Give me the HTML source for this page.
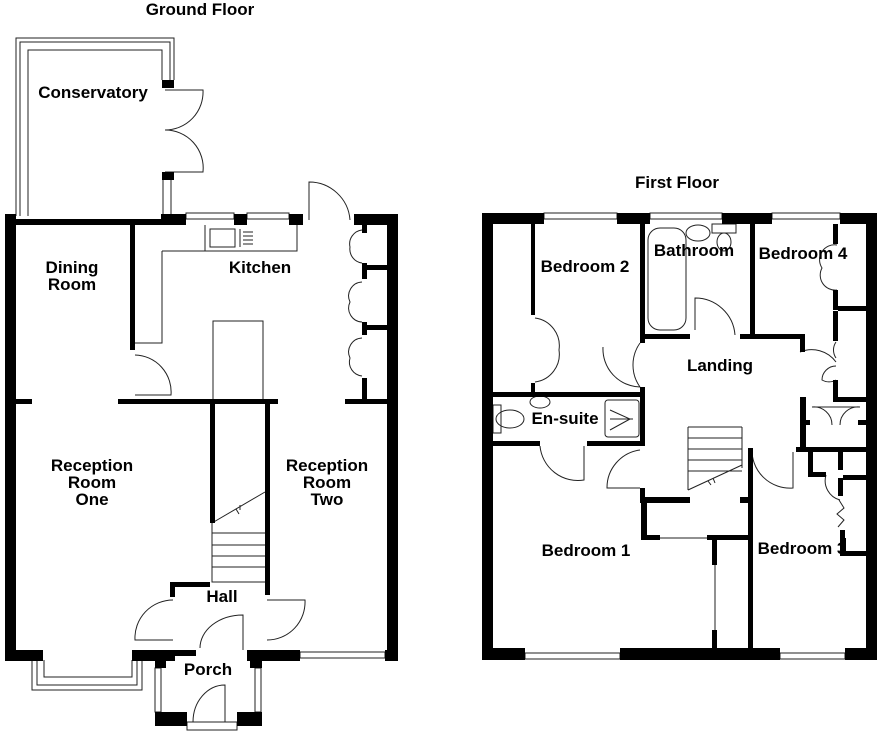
<!DOCTYPE html>
<html><head><meta charset="utf-8"><style>
html,body{margin:0;padding:0;background:#fff;}
svg{display:block;}
text{font-family:"Liberation Sans",Arial,sans-serif;font-weight:bold;font-size:17px;fill:#000;text-anchor:middle;}
</style></head><body>
<svg width="880" height="737" viewBox="0 0 880 737" xmlns="http://www.w3.org/2000/svg">
<g fill="none" stroke="#222" stroke-width="1">
<path d="M16,216 V38 H174 V80"/><path d="M20,216 V42 H170 V80"/><path d="M28,216 V50 H162 V80"/>
<path d="M163,180 V214 M171,180 V214"/>
<path d="M165,90 H203 A38,38 0 0 1 165,130"/><path d="M165,172 H203 A38,38 0 0 0 165,130"/>
<rect x="186" y="213" width="48" height="6"/><rect x="247" y="213" width="42" height="6"/>
<path d="M309,220 V182 A41,41 0 0 1 350,220"/>
<path d="M205,225 V251 H297 V225 M162,251 H205 M162,251 V343 H135"/>
<rect x="210" y="229" width="25" height="18"/><path d="M240,229 V247 M243,232 H253 M243,236 H253 M243,240 H253 M243,244 H253"/>
<path d="M362,230 A14,14 0 0 0 350,247 A14,14 0 0 0 362,263"/>
<path d="M362,282 A14,14 0 0 0 350,302 A14,14 0 0 0 362,322"/>
<path d="M362,338 A14,14 0 0 0 350,358 A14,14 0 0 0 362,376"/>
<path d="M135,355 A37,37 0 0 1 171,395 H135"/>
<rect x="213" y="321" width="50" height="82"/>
<path d="M212,523 V582 H265 M212,533 H265 M212,545 H265 M212,556 H265 M212,567 H265 M212,523 L265,492 M236,509 l3,5 M240,505 l0,5"/>
<path d="M173,600 A38,38 0 0 0 135,640 H173"/>
<path d="M267,640 A38,38 0 0 0 305,600 H267"/>
<path d="M200,648 A43,33 0 0 1 243,615 V650"/>
<path d="M193,722 A32,37 0 0 1 225,685 V722"/>
<rect x="187" y="722" width="50" height="8"/>
<path d="M32,660 V690 H142 V660 M37,660 V685 H137 V660 M44,660 V677 H132 V660"/>
<rect x="155" y="668" width="6" height="44"/><rect x="255" y="668" width="6" height="44"/>
<rect x="300" y="652" width="85" height="6"/>
<rect x="544" y="213" width="73" height="6"/><rect x="650" y="213" width="72" height="6"/><rect x="772" y="213" width="68" height="6"/>
<rect x="525" y="653" width="95" height="6"/><rect x="780" y="653" width="65" height="6"/>
<rect x="648" y="228" width="38" height="102" rx="12"/>
<ellipse cx="698" cy="233" rx="12" ry="8"/><ellipse cx="724" cy="242" rx="7" ry="9"/><rect x="712" y="224" width="24" height="9"/>
<ellipse cx="510" cy="419" rx="14" ry="9"/><rect x="493" y="405" width="8" height="28"/><rect x="605" y="400" width="34" height="37" rx="3"/>
<path d="M610,419 H633 M610,410 L630,419 L610,430"/><ellipse cx="540" cy="402" rx="10" ry="6"/>
<path d="M535,318 A28,28 0 0 1 559,350 A28,28 0 0 1 535,382"/>
<path d="M640,343 A38,38 0 0 0 640,387"/><path d="M603,347 A38,38 0 0 0 640,387"/>
<path d="M695,330 V298 A40,40 0 0 1 735,335"/>
<path d="M837,245 A15,15 0 0 0 822,268 A15,15 0 0 0 837,290"/>
<path d="M800,352 A30,30 0 0 1 836,362 M836,342 A14,14 0 0 0 836,358 M836,366 A14,14 0 0 0 822,380 A14,14 0 0 0 836,380"/>
<path d="M812,407 A18,18 0 0 1 832,425 M860,407 A18,18 0 0 0 840,425 M812,407 H860"/>
<path d="M540,446 A38,38 0 0 0 584,480 V446"/>
<path d="M640,450 A38,38 0 0 0 607,488 H640"/>
<path d="M752,448 A38,38 0 0 0 793,488 V452"/>
<path d="M826,475 A20,20 0 0 0 840,500 M839,500 L844,508 L837,514 L844,520 L838,527"/>
<path d="M688,427 V490 M742,427 V468 M688,427 H742 M688,438 H742 M688,449 H742 M688,460 H742 M688,471 H742 M688,490 L742,465 M708,481 l3,4 M713,478 l2,5"/>
<path d="M660,538 H707 M715,565 V630"/>
</g>
<g fill="#000">
<rect x="5" y="214" width="11" height="447"/>
<rect x="5" y="219" width="157" height="6"/>
<rect x="161" y="214" width="25" height="11"/><rect x="234" y="214" width="13" height="11"/><rect x="289" y="214" width="14" height="11"/>
<rect x="354" y="214" width="44" height="11"/><rect x="387" y="214" width="11" height="447"/>
<rect x="162" y="80" width="12" height="8"/><rect x="162" y="172" width="12" height="8"/>
<rect x="130" y="225" width="5" height="125"/>
<rect x="5" y="399" width="27" height="5"/><rect x="118" y="399" width="160" height="5"/><rect x="345" y="399" width="52" height="5"/>
<rect x="362" y="225" width="5" height="8"/><rect x="362" y="265" width="25" height="5"/><rect x="362" y="263" width="5" height="16"/>
<rect x="362" y="325" width="25" height="5"/><rect x="362" y="322" width="5" height="13"/><rect x="362" y="378" width="5" height="22"/>
<rect x="210" y="404" width="5" height="119"/><rect x="265" y="404" width="5" height="191"/>
<rect x="170" y="582" width="40" height="5"/><rect x="170" y="582" width="5" height="15"/>
<rect x="5" y="650" width="38" height="11"/><rect x="132" y="650" width="43" height="11"/>
<rect x="155" y="650" width="11" height="18"/><rect x="166" y="650" width="30" height="6"/>
<rect x="247" y="650" width="53" height="11"/><rect x="250" y="650" width="12" height="18"/><rect x="385" y="650" width="13" height="11"/>
<rect x="155" y="712" width="32" height="14"/><rect x="237" y="712" width="25" height="14"/>
<rect x="482" y="213" width="11" height="447"/><rect x="482" y="213" width="62" height="11"/><rect x="617" y="213" width="33" height="11"/>
<rect x="722" y="213" width="50" height="11"/><rect x="840" y="213" width="37" height="11"/><rect x="866" y="213" width="11" height="447"/>
<rect x="482" y="648" width="43" height="12"/><rect x="620" y="648" width="160" height="12"/><rect x="845" y="648" width="32" height="12"/>
<rect x="531" y="224" width="4" height="91"/><rect x="531" y="383" width="4" height="10"/>
<rect x="493" y="392" width="152" height="5"/><rect x="493" y="441" width="47" height="5"/><rect x="587" y="441" width="58" height="5"/>
<rect x="640" y="224" width="5" height="119"/><rect x="640" y="387" width="5" height="59"/><rect x="640" y="488" width="5" height="15"/>
<rect x="640" y="334" width="50" height="5"/><rect x="740" y="334" width="65" height="5"/><rect x="750" y="224" width="5" height="115"/><rect x="800" y="334" width="5" height="18"/>
<rect x="833" y="224" width="5" height="20"/><rect x="833" y="290" width="5" height="20"/><rect x="838" y="306" width="28" height="5"/>
<rect x="833" y="311" width="5" height="30"/><rect x="833" y="380" width="5" height="22"/><rect x="838" y="397" width="28" height="5"/>
<rect x="800" y="397" width="6" height="55"/><rect x="796" y="447" width="70" height="5"/><rect x="800" y="420" width="10" height="5"/><rect x="858" y="420" width="8" height="5"/>
<rect x="640" y="497" width="50" height="6"/><rect x="740" y="497" width="13" height="6"/><rect x="748" y="448" width="5" height="200"/>
<rect x="641" y="497" width="6" height="43"/><rect x="641" y="535" width="19" height="5"/><rect x="707" y="535" width="46" height="5"/>
<rect x="712" y="538" width="5" height="27"/><rect x="712" y="630" width="5" height="18"/>
<rect x="808" y="452" width="5" height="25"/><rect x="808" y="472" width="18" height="5"/><rect x="838" y="452" width="5" height="18"/><rect x="838" y="478" width="5" height="18"/>
<rect x="843" y="475" width="23" height="5"/><rect x="840" y="530" width="5" height="26"/><rect x="840" y="551" width="26" height="5"/>
</g>
<text x="200" y="15">Ground Floor</text>
<text x="677" y="188">First Floor</text>
<text x="93" y="98">Conservatory</text>
<text x="72" y="273">Dining</text><text x="72" y="290">Room</text>
<text x="260" y="273">Kitchen</text>
<text x="92" y="471">Reception</text><text x="92" y="488">Room</text><text x="92" y="505">One</text>
<text x="327" y="471">Reception</text><text x="327" y="488">Room</text><text x="327" y="505">Two</text>
<text x="222" y="602">Hall</text>
<text x="208" y="675">Porch</text>
<text x="585" y="272">Bedroom 2</text>
<text x="694" y="256">Bathroom</text>
<text x="803" y="259">Bedroom 4</text>
<text x="720" y="371">Landing</text>
<text x="565" y="424">En-suite</text>
<text x="586" y="556">Bedroom 1</text>
<text x="802" y="554">Bedroom 3</text>
<rect x="840" y="538" width="6" height="18" fill="#000"/>
</svg>
</body></html>
